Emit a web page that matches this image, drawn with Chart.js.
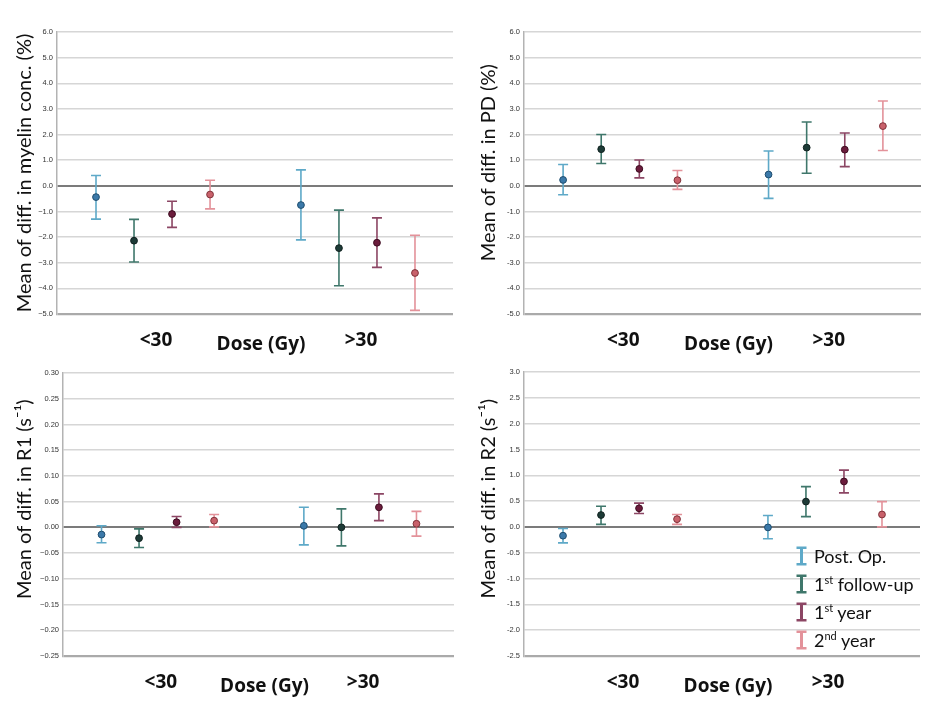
<!DOCTYPE html>
<html><head><meta charset="utf-8">
<script src="https://cdn.jsdelivr.net/npm/chart.js@4.4.1/dist/chart.umd.min.js"></script>
<style>
body{margin:0;background:#fff;width:934px;height:720px;overflow:hidden;position:relative;font-family:Lato,sans-serif}
canvas{position:absolute}
#legend{position:absolute;left:796px;top:542px;font:18px Lato,sans-serif;color:#111}
.li{height:28px;display:flex;align-items:center;white-space:nowrap}
.li svg{margin-right:7px}
sup{font-size:11px;vertical-align:7px;line-height:0}
</style></head><body>
<canvas id="c1" width="467" height="360" style="left:0;top:0"></canvas>
<canvas id="c2" width="467" height="360" style="left:467px;top:0"></canvas>
<canvas id="c3" width="467" height="360" style="left:0;top:360px"></canvas>
<canvas id="c4" width="467" height="360" style="left:467px;top:360px"></canvas>
<div id="legend"></div>
<script>
// ---- data ----
const groups = ['<30', '>30'];
const seriesNames = ['Post. Op.', '1<sup>st</sup> follow-up', '1<sup>st</sup> year', '2<sup>nd</sup> year'];
const barColors = ['#5ea9c8', '#3f776b', '#8c4664', '#e3929a'];
const pointColors = ['#3b79a9', '#1d3b37', '#6b1c3c', '#c9616b'];
const pointBorders = ['#1f4d6e', '#10211f', '#3d0c20', '#7f3239'];

// each row: one series, [<30, >30]
const myelinMean = [[-0.44, -0.75], [-2.14, -2.43], [-1.10, -2.22], [-0.34, -3.40]];
const myelinLow  = [[-1.30, -2.11], [-2.97, -3.90], [-1.62, -3.18], [-0.90, -4.86]];
const myelinHigh = [[ 0.40,  0.62], [-1.31, -0.95], [-0.60, -1.25], [ 0.22, -1.93]];

const pdMean = [[0.23, 0.44], [1.43, 1.49], [0.66, 1.41], [0.22, 2.33]];
const pdLow  = [[-0.35, -0.49], [0.87, 0.49], [0.31, 0.75], [-0.14, 1.38]];
const pdHigh = [[0.83, 1.36], [2.00, 2.49], [1.01, 2.06], [0.60, 3.31]];

const r1Mean = [[-0.014, 0.003], [-0.021, 0.000], [0.010, 0.039], [0.013, 0.007]];
const r1Low  = [[-0.030, -0.034], [-0.039, -0.036], [0.000, 0.013], [0.001, -0.017]];
const r1High = [[0.003, 0.039], [-0.003, 0.036], [0.021, 0.065], [0.025, 0.031]];

const r2Mean = [[-0.17, -0.01], [0.23, 0.49], [0.36, 0.88], [0.15, 0.24]];
const r2Low  = [[-0.31, -0.23], [0.05, 0.20], [0.26, 0.66], [0.05, 0.00]];
const r2High = [[-0.03, 0.22], [0.40, 0.78], [0.46, 1.10], [0.24, 0.49]];

const yTicks1 = {min: -5, max: 6, step: 1, dec: 1, minus: '\u2212'};
const yTicks2 = {min: -5, max: 6, step: 1, dec: 1, minus: '-'};
const yTicks3 = {min: -0.25, max: 0.30, step: 0.05, dec: 2, minus: '\u2212'};
const yTicks4 = {min: -2.5, max: 3.0, step: 0.5, dec: 1, minus: '-'};

// layout (x positions of groups on a 0..4 axis, slot between series)
const groupPos = [0.97, 3.04];
const slot = 0.384;

const errorBars = {
  id: 'errorBars',
  beforeDatasetsDraw(chart) {
    const ctx = chart.ctx, xs = chart.scales.x, ys = chart.scales.y;
    chart.data.datasets.forEach(ds => {
      ctx.save();
      ctx.strokeStyle = ds.barColor;
      ctx.lineWidth = 1.6;
      ds.data.forEach((p, i) => {
        const x = xs.getPixelForValue(p.x);
        const yl = ys.getPixelForValue(ds.low[i]);
        const yh = ys.getPixelForValue(ds.high[i]);
        ctx.beginPath();
        ctx.moveTo(x, yl); ctx.lineTo(x, yh);
        ctx.moveTo(x - 5, yl); ctx.lineTo(x + 5, yl);
        ctx.moveTo(x - 5, yh); ctx.lineTo(x + 5, yh);
        ctx.stroke();
      });
      ctx.restore();
    });
  }
};

const xLabels = {
  id: 'xLabels',
  afterDraw(chart) {
    const ctx = chart.ctx, xs = chart.scales.x, a = chart.chartArea;
    ctx.save();
    ctx.fillStyle = '#111';
    ctx.textAlign = 'center';
    ctx.textBaseline = 'alphabetic';
    ctx.font = 'bold 19px "Open Sans", sans-serif';
    groups.forEach((g, gi) => {
      ctx.fillText(g, xs.getPixelForValue(groupPos[gi]) + 3, a.bottom + 32);
    });
    ctx.fillText('Dose (Gy)', (a.left + a.right) / 2 + 6, a.bottom + 36);
    ctx.restore();
  }
};

function makeChart(id, title, mean, low, high, yt, pad, axisW, titlePad) {
  const datasets = mean.map((m, si) => ({
    label: seriesNames[si],
    data: groups.map((g, gi) => ({x: groupPos[gi] + (si - 1.5) * slot, y: m[gi]})),
    low: low[si], high: high[si],
    barColor: barColors[si],
    backgroundColor: pointColors[si],
    borderColor: pointBorders[si],
    borderWidth: 1,
    pointRadius: 3.4,
    showLine: false
  }));
  new Chart(document.getElementById(id), {
    type: 'scatter',
    data: {datasets},
    options: {
      responsive: false, animation: false,
      layout: {padding: pad},
      plugins: {legend: {display: false}, tooltip: {enabled: false}},
      scales: {
        x: {type: 'linear', min: 0, max: 4, display: false},
        y: {
          min: yt.min, max: yt.max,
          afterFit(s) { s.width = axisW; s.paddingTop = 0; s.paddingBottom = 0; },
          ticks: {
            stepSize: yt.step, padding: 4, color: '#333',
            font: {family: 'Liberation Sans', size: 7.5},
            callback: v => (v < 0 ? yt.minus : '') + Math.abs(v).toFixed(yt.dec)
          },
          grid: {
            drawTicks: false,
            color: c => Math.abs(c.tick.value) < 1e-9 ? '#7b7b7b' : (c.index === 0 ? '#aaaaaa' : '#d6d6d6'),
            lineWidth: c => Math.abs(c.tick.value) < 1e-9 ? 2 : (c.index === 0 ? 2.2 : 1.4)
          },
          border: {display: true, color: '#b3b3b3', width: 1.5},
          title: {
            display: true, text: title, color: '#111',
            font: {family: 'Lato', size: 20},
            padding: {top: titlePad, bottom: 0}
          }
        }
      }
    },
    plugins: [errorBars, xLabels]
  });
}

makeChart('c1', 'Mean of diff. in myelin conc. (%)', myelinMean, myelinLow, myelinHigh, yTicks1,
  {left: 0, right: 14, top: 32, bottom: 46}, 57, 13);
makeChart('c2', '    Mean of diff. in PD (%)', pdMean, pdLow, pdHigh, yTicks2,
  {left: 0, right: 13, top: 32, bottom: 46}, 57, 10);
makeChart('c3', '      Mean of diff. in R1 (s\u207B\u00B9)', r1Mean, r1Low, r1High, yTicks3,
  {left: 0, right: 13, top: 13, bottom: 64}, 63, 13);
makeChart('c4', '      Mean of diff. in R2 (s\u207B\u00B9)', r2Mean, r2Low, r2High, yTicks4,
  {left: 0, right: 14, top: 12, bottom: 64}, 57, 10);

// legend
const lg = document.getElementById('legend');
seriesNames.forEach((n, si) => {
  const c = barColors[si];
  lg.insertAdjacentHTML('beforeend',
    `<div class="li"><svg width="11" height="20" viewBox="0 0 11 20">
      <rect x="0.5" y="0.5" width="10" height="2.5" fill="${c}"/>
      <rect x="4" y="1" width="3" height="18" fill="${c}"/>
      <rect x="0.5" y="17" width="10" height="2.5" fill="${c}"/>
    </svg><span>${n}</span></div>`);
});
</script>
</body></html>
